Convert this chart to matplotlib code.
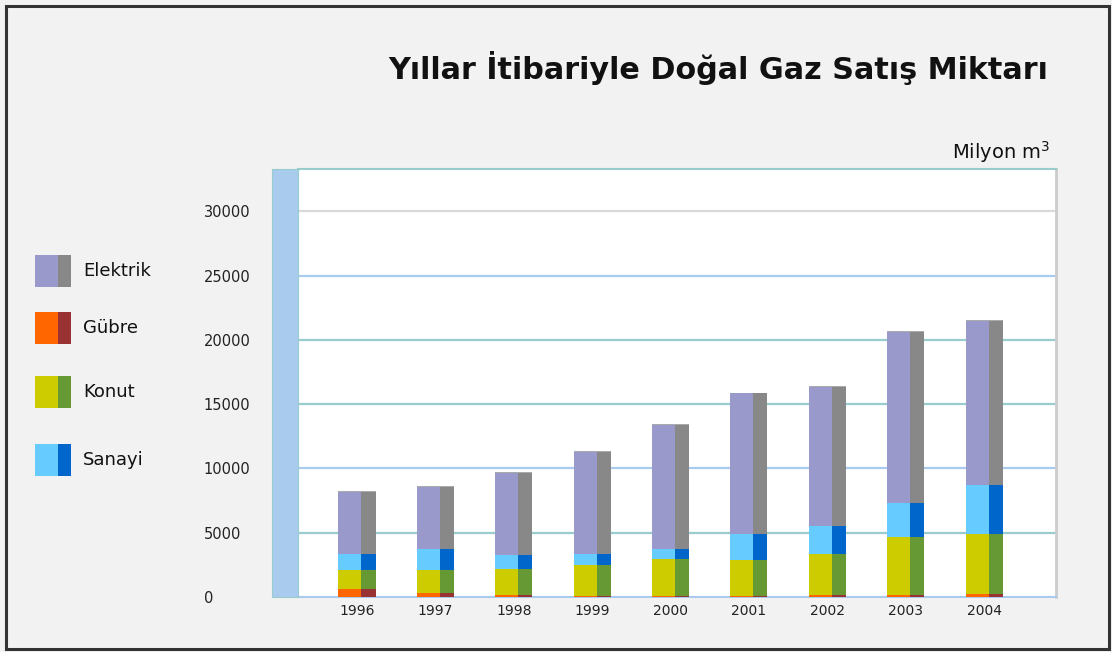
import numpy as np
import matplotlib.pyplot as plt
from matplotlib.patches import Rectangle

# Data (Milyon m3)
years = ['1996', '1997', '1998', '1999', '2000', '2001', '2002', '2003', '2004']
gubre = [650, 340, 190, 80, 50, 110, 190, 160, 265]
konut = [1420, 1735, 2020, 2440, 2870, 2745, 3185, 4505, 4610]
sanayi = [1300, 1690, 1035, 855, 800, 2020, 2145, 2675, 3810]
elektrik = [4850, 4845, 6480, 7980, 9740, 11020, 10865, 13320, 12830]

# stacking order bottom -> top
series = [gubre, konut, sanayi, elektrik]
front_colors = ['#ff6600', '#cccc00', '#66ccff', '#9999cc']
side_colors = ['#993333', '#669933', '#0066cc', '#888888']

legend_names = ['Elektrik', 'Gübre', 'Konut', 'Sanayi']
legend_front = ['#9999cc', '#ff6600', '#cccc00', '#66ccff']
legend_side = ['#888888', '#993333', '#669933', '#0066cc']

yticks = [0, 5000, 10000, 15000, 20000, 25000, 30000]
grid_colors = ['#99cccc', '#a9cbee', '#99cccc', '#99cccc', '#a9cbee', '#d9d9d9']

W, H = 1112, 652
fig = plt.figure(figsize=(W / 100, H / 100), dpi=100)
fig.patch.set_facecolor('#f2f2f2')

def fx(px):
    return px / W

def fy(py):
    return 1 - py / H

# outer frame
fig.patches.append(Rectangle((fx(6), fy(649)), fx(1103), (643) / H, transform=fig.transFigure,
                             fill=False, edgecolor='#333333', linewidth=2.2))

# left wall of the plot
fig.patches.append(Rectangle((fx(272), fy(597)), fx(26), 428 / H, transform=fig.transFigure,
                             facecolor='#a8cbee', edgecolor='#99cccc', linewidth=0.8))

ax = fig.add_axes([fx(298), fy(597), fx(758), 428 / H])
ax.set_facecolor('white')

x = np.arange(len(years))
wf, ws = 0.293, 0.18
left = -(wf + ws) / 2
bottom = np.zeros(len(years))
for vals, cf, cs in zip(series, front_colors, side_colors):
    vals = np.array(vals, dtype=float)
    ax.bar(x + left, vals, width=wf, bottom=bottom, align='edge', color=cf, linewidth=0, zorder=3)
    ax.bar(x + left + wf, vals, width=ws, bottom=bottom, align='edge', color=cs, linewidth=0, zorder=3)
    bottom += vals
# thin top edge
ax.bar(x + left, 60, width=wf + ws, bottom=bottom - 60, align='edge', color='#aaaaaa', linewidth=0, zorder=4)

for yv, gc in zip(yticks[1:], grid_colors):
    ax.axhline(yv, color=gc, linewidth=1.6, zorder=1)

ax.set_xlim(-0.753, 8.917)
ax.set_ylim(0, 33300)
ax.set_xticks(x)
ax.set_xticklabels(years, fontsize=10, color='#222222')
ax.set_yticks(yticks)
ax.set_yticklabels([str(v) for v in yticks], fontsize=10.5, color='#222222')
for t in ax.get_yticklabels():
    t.set_horizontalalignment('left')
ax.tick_params(axis='y', length=0, pad=68)
ax.tick_params(axis='x', length=0, pad=5)

ax.spines['left'].set_visible(False)
ax.spines['top'].set_color('#99cccc')
ax.spines['top'].set_linewidth(1.5)
ax.spines['right'].set_color('#cccccc')
ax.spines['right'].set_linewidth(2)
ax.spines['bottom'].set_color('#a9cbee')
ax.spines['bottom'].set_linewidth(1.5)

# titles
fig.text(fx(1048), fy(68), 'Yıllar İtibariyle Doğal Gaz Satış Miktarı', ha='right', va='center',
         fontsize=21.8, fontweight='bold', color='#111111')
fig.text(fx(1050), fy(152), 'Milyon m$^3$', ha='right', va='center', fontsize=14, color='#111111')

# legend
legend_y = [271, 328, 392, 460]
for name, cf, cs, ly in zip(legend_names, legend_front, legend_side, legend_y):
    fig.patches.append(Rectangle((fx(35), fy(ly + 16)), fx(23), 32 / H, transform=fig.transFigure,
                                 facecolor=cf, edgecolor='none'))
    fig.patches.append(Rectangle((fx(58), fy(ly + 16)), fx(13), 32 / H, transform=fig.transFigure,
                                 facecolor=cs, edgecolor='none'))
    fig.text(fx(83), fy(ly), name, ha='left', va='center', fontsize=13, color='#111111')

fig.savefig('out.png', dpi=100, facecolor=fig.get_facecolor())
